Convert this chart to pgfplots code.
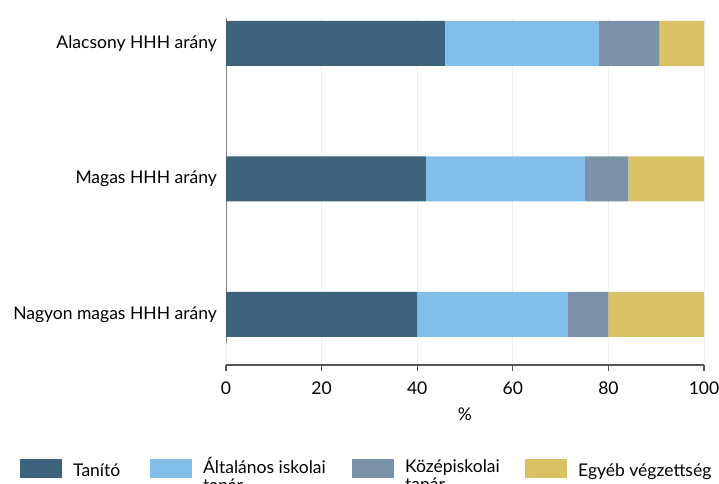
\documentclass[border=0pt]{standalone}
\usepackage{fontspec}
\setmainfont{Lato}
\usepackage{pgfplots}
\pgfplotsset{compat=1.18}
\definecolor{cTan}{RGB}{62,100,125}
\definecolor{cAlt}{RGB}{130,190,232}
\definecolor{cKoz}{RGB}{123,146,168}
\definecolor{cEgy}{RGB}{216,194,100}
\definecolor{axgray}{RGB}{85,85,85}
\begin{document}
\begin{tikzpicture}
\fontsize{17.5bp}{20bp}\selectfont
\begin{axis}[
  at={(226bp,119bp)}, anchor=south west,
  scale only axis, width=478bp, height=347bp,
  font=\fontsize{17.5bp}{20bp}\selectfont,
  xbar stacked, bar width=45bp,
  xmin=0, xmax=100, ymin=-0.188, ymax=2.373, y dir=reverse,
  ytick={0,1,2},
  yticklabels={Alacsony HHH arány, Magas HHH arány, Nagyon magas HHH arány},
  xtick={0,20,40,60,80,100},
  /pgf/number format/assume math mode=true,
  separate axis lines,
  axis x line*=bottom,
  axis y line*=left,
  y axis line style={draw=none},
  x axis line style={axgray, line width=1.3bp, -},
  ytick style={draw=none},
  xtick style={axgray, line width=1.3bp},
  tick align=outside,
  major tick length=6bp,
  xmajorgrids,
  grid style={black!6, line width=0.8bp},
  x tick label style={inner sep=0pt, yshift=-11bp},
  y tick label style={inner sep=0pt, xshift=-3bp},
  xlabel={\%},
  xlabel style={inner sep=0pt, yshift=-13bp},
  legend columns=4,
  legend cell align=left,
  legend style={
    at={(-0.4310,-0.2651)}, anchor=north west,
    draw=none, fill=none, inner sep=0pt,
    nodes={inner sep=0pt},
    /tikz/every odd column/.append style={column sep=11bp},
    /tikz/every even column/.append style={column sep=0bp},
  },
  legend image code/.code={\fill[#1] (0bp,-6bp) rectangle (42bp,13bp);},
]
\addplot[fill=cTan, draw=none] coordinates {(45.8,0) (41.8,1) (40.0,2)};
\addplot[fill=cAlt, draw=none] coordinates {(32.2,0) (33.3,1) (31.5,2)};
\addplot[fill=cKoz, draw=none] coordinates {(12.6,0) (9.1,1) (8.5,2)};
\addplot[fill=cEgy, draw=none] coordinates {(9.4,0) (15.8,1) (20.0,2)};
\legend{\makebox[77bp][l]{Tanító},
  \makebox[149bp][l]{\raisebox{10bp}{\begin{tabular}[t]{@{}l@{}}Általános iskolai\\[-2bp]tanár\end{tabular}}},
  \makebox[120bp][l]{\raisebox{10bp}{\begin{tabular}[t]{@{}l@{}}Középiskolai\\[-2bp]tanár\end{tabular}}},
  Egyéb végzettség}
\draw[black!50, line width=1.3bp] (axis cs:0,-0.21) -- (axis cs:0,2.21);
\end{axis}
\pgfresetboundingbox
\useasboundingbox (0,0) rectangle (719bp,484bp);
\end{tikzpicture}
\end{document}
